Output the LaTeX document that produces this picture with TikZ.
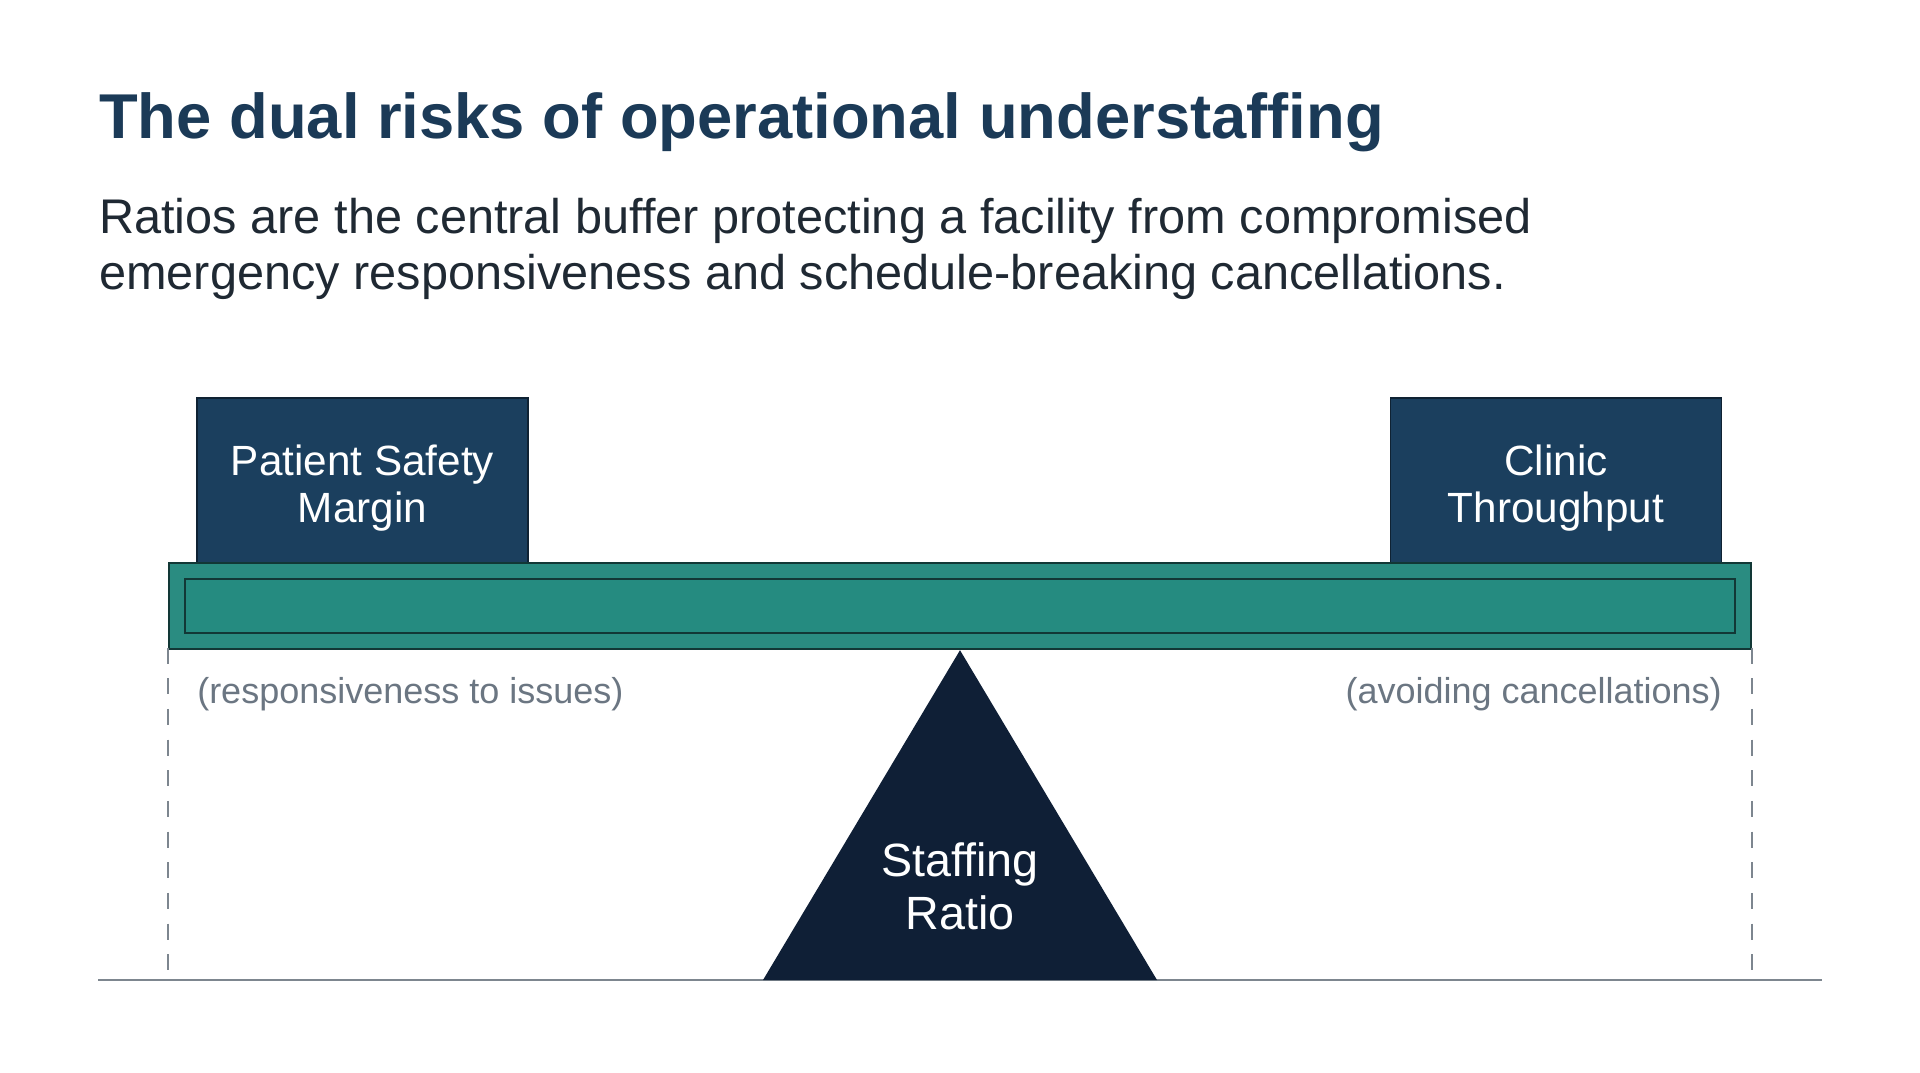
\documentclass[tikz,border=0pt]{standalone}
\usepackage{fontspec}
\setmainfont{Liberation Sans}
\usepackage{xcolor}

\definecolor{titleblue}{HTML}{1B3A57}
\definecolor{subtext}{HTML}{1F2933}
\definecolor{boxfill}{HTML}{1B3F5E}
\definecolor{boxedge}{HTML}{0F2233}
\definecolor{fulcrumfill}{HTML}{0F1F36}
\definecolor{beamfill}{HTML}{2A8C81}
\definecolor{beaminnerfill}{HTML}{258B80}
\definecolor{beamedge}{HTML}{123836}
\definecolor{notegray}{HTML}{6B7682}
\definecolor{guidegray}{HTML}{7D868F}

\tikzset{
  weightbox/.style={draw=boxedge, fill=boxfill, line width=1.2pt, text=white, align=center,
    minimum width=248.25pt, minimum height=123.75pt, inner sep=0pt,
    font=\fontsize{31.7}{35}\selectfont},
  beambar/.style={draw=beamedge, fill=beamfill, line width=1.8pt, inner sep=0pt},
  notetext/.style={text=notegray, inner sep=0.75pt, font=\fontsize{27}{30}\selectfont},
  guideline/.style={draw=guidegray, line width=1.4pt, dash pattern=on 12pt off 11pt},
}

\begin{document}
\begin{tikzpicture}[x=0.75pt,y=0.75pt,yscale=-1,xscale=1]
% Background
\fill[white] (0,0) rectangle (1920,1072);
\useasboundingbox (0,0) rectangle (1920,1072);

% Text Node
\node [anchor=base west, inner sep=0.75pt, text=titleblue, font=\fontsize{47.5}{56}\bfseries\selectfont] (title) at (98,138) {The dual risks of operational understaffing};
% Text Node
\node [anchor=base west, inner sep=0.75pt, text=subtext, font=\fontsize{36.5}{42}\selectfont] (subA) at (98,233) {Ratios are the central buffer protecting a facility from compromised};
% Text Node
\node [anchor=base west, inner sep=0.75pt, text=subtext, font=\fontsize{36.5}{42}\selectfont] (subB) at (98,289) {emergency responsiveness and schedule-breaking cancellations.};

% Weights
\node [weightbox] (safety) at (362.5,480.5) {};
\node [weightbox, draw=none, fill=none] (safetytext) at (362.5,488) {Patient Safety\\Margin};
\node [weightbox] (throughput) at (1556,480.5) {};
\node [weightbox, draw=none, fill=none] (throughputtext) at (1556,488) {Clinic\\Throughput};

% Beam
\node [beambar, minimum width=1186.5pt, minimum height=64.5pt] (beam) at (960,606) {};
\node [beambar, fill=beaminnerfill, line width=1.6pt, minimum width=1162.5pt, minimum height=40.5pt] (beamcore) at (960,606) {};

% Ground
\coordinate (groundL) at (98,980);
\coordinate (groundR) at (1822,980);
\draw [guidegray, line width=2.2pt] (groundL) -- (groundR);

% Connection
\draw [guideline] ([yshift=-2]beam.south west) -- (beam.south west |- groundL);
% Connection
\draw [guideline] ([yshift=-2]beam.south east) -- (beam.south east |- groundR);

% Fulcrum
\fill [fulcrumfill] (beam.south) -- (1157,980) -- (763,980) -- cycle;
\node [text=white, align=center, inner sep=0pt, font=\fontsize{35}{40}\selectfont] (ratio) at (960,886) {Staffing\\Ratio};

% Text Node
\node [notetext, anchor=west] (safetynote) at (196,694) {(responsiveness to issues)};
% Text Node
\node [notetext, anchor=east] (throughputnote) at (1723,694) {(avoiding cancellations)};

\end{tikzpicture}
\end{document}
